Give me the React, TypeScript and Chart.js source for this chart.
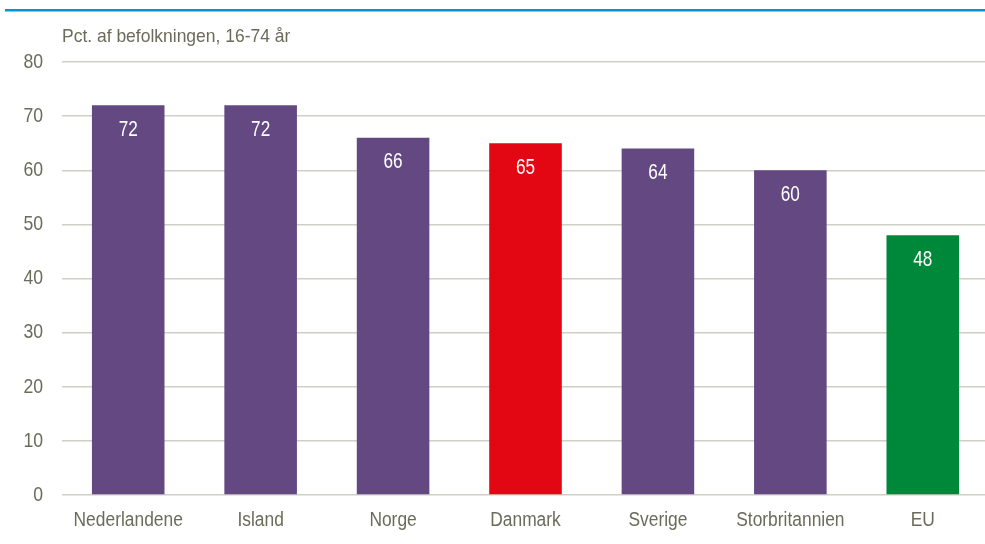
import React, { useEffect, useRef } from "react";
import { Chart, registerables } from "chart.js";

Chart.register(...registerables);

const categories = ["Nederlandene", "Island", "Norge", "Danmark", "Sverige", "Storbritannien", "EU"];
const values = [72, 72, 66, 65, 64, 60, 48];
const barColors = ["#634882", "#634882", "#634882", "#e30613", "#634882", "#634882", "#00883a"];
const yTicks = [0, 10, 20, 30, 40, 50, 60, 70, 80];
const unitLabel = "Pct. af befolkningen, 16-74 år";

const TEXT = "#6b6b5b";
const FONT = "'Liberation Sans', Arial, sans-serif";

function drawText(
  ctx: CanvasRenderingContext2D,
  text: string,
  x: number,
  y: number,
  size: number,
  sx: number,
  align: CanvasTextAlign,
  color: string
) {
  ctx.save();
  ctx.translate(x, y);
  ctx.scale(sx, 1);
  ctx.font = `${size}px ${FONT}`;
  ctx.fillStyle = color;
  ctx.textAlign = align;
  ctx.textBaseline = "middle";
  ctx.fillText(text, 0, 0);
  ctx.restore();
}

export default function App() {
  const ref = useRef<HTMLCanvasElement | null>(null);

  useEffect(() => {
    document.body.style.margin = "0";
    const canvas = ref.current;
    if (!canvas) return;

    const decor = {
      id: "decor",
      afterDraw(chart: any) {
        const ctx = chart.ctx as CanvasRenderingContext2D;
        ctx.save();
        // blue top rule
        ctx.fillStyle = "#0095d9";
        ctx.fillRect(5, 9, 985, 2.5);
        ctx.restore();
        // unit label
        drawText(ctx, unitLabel, 62, 36.5, 18.6, 0.94, "left", TEXT);
        // y tick labels
        const ys = chart.scales.y;
        yTicks.forEach((v) => {
          drawText(ctx, String(v), 43, ys.getPixelForValue(v), 21, 0.84, "right", TEXT);
        });
        // x tick labels
        const xs = chart.scales.x;
        categories.forEach((c, i) => {
          drawText(ctx, c, xs.getPixelForValue(i), 520.5, 20, 0.87, "center", TEXT);
        });
        // value labels
        const meta = chart.getDatasetMeta(0);
        meta.data.forEach((bar: any, i: number) => {
          drawText(ctx, String(values[i]), bar.x, bar.y + 24.5, 21.5, 0.8, "center", "#ffffff");
        });
      },
    };

    const chart = new Chart(canvas, {
      type: "bar",
      data: {
        labels: categories,
        datasets: [
          {
            data: values,
            backgroundColor: barColors,
            borderWidth: 0,
            barPercentage: 0.548,
            categoryPercentage: 1,
          },
        ],
      },
      options: {
        responsive: false,
        animation: false,
        layout: { padding: { top: 62, right: 1, left: 0, bottom: 0 } },
        plugins: { legend: { display: false }, tooltip: { enabled: false } },
        scales: {
          x: {
            grid: { display: false, drawTicks: false },
            border: { display: false },
            ticks: { display: false },
            afterFit(scale: any) {
              scale.height = 49;
            },
          },
          y: {
            min: 0,
            max: 80,
            afterBuildTicks(scale: any) {
              scale.ticks = yTicks.map((v) => ({ value: v }));
            },
            grid: { color: "#cfcfc6", lineWidth: 1.5, drawTicks: false },
            border: { display: false },
            ticks: { display: false },
            afterFit(scale: any) {
              scale.width = 62;
            },
          },
        },
      },
      plugins: [decor],
    });

    return () => chart.destroy();
  }, []);

  return (
    <div style={{ width: 985, height: 544, overflow: "hidden", position: "relative", background: "#fff" }}>
      <canvas ref={ref} width={990} height={544} style={{ width: 990, height: 544, display: "block" }} />
    </div>
  );
}
